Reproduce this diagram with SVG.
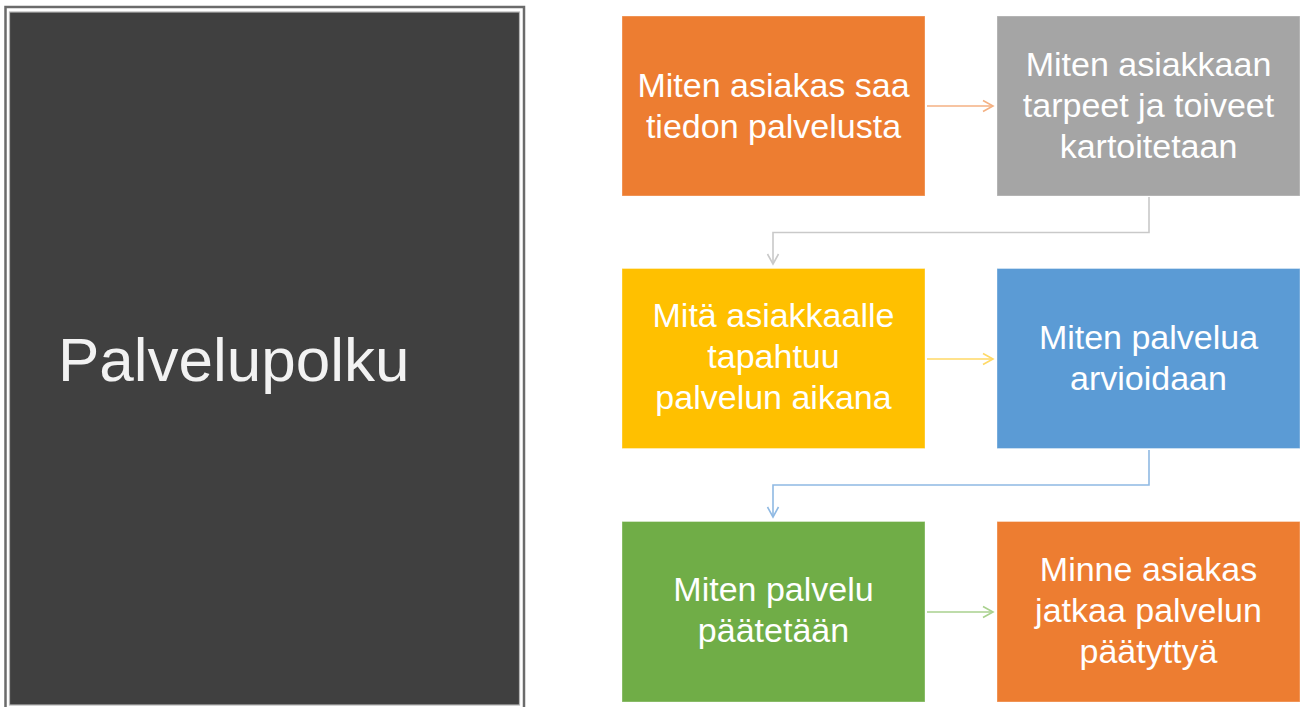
<svg xmlns="http://www.w3.org/2000/svg" width="1301" height="707" viewBox="0 0 1301 707">
  <defs>
    <style>
      .box { stroke: #ffffff; stroke-opacity: 0.35; stroke-width: 1; }
      .lbl { font-family: "Liberation Sans", Arial, sans-serif; font-size: 34px; fill: #ffffff; text-anchor: middle; }
      .title { font-family: "Liberation Sans", Arial, sans-serif; font-size: 62px; fill: #f2f2f2; }
      .conn { fill: none; stroke-width: 1.6; }
    </style>
    <marker id="aOrange" markerUnits="userSpaceOnUse" markerWidth="14" markerHeight="14" refX="11" refY="7" orient="auto">
      <path d="M1,1.5 L11,7 L1,12.5" fill="none" stroke="#F4B183" stroke-width="1.6"/>
    </marker>
    <marker id="aGray" markerUnits="userSpaceOnUse" markerWidth="14" markerHeight="14" refX="11" refY="7" orient="auto">
      <path d="M1,1.5 L11,7 L1,12.5" fill="none" stroke="#C9C9C9" stroke-width="1.6"/>
    </marker>
    <marker id="aYellow" markerUnits="userSpaceOnUse" markerWidth="14" markerHeight="14" refX="11" refY="7" orient="auto">
      <path d="M1,1.5 L11,7 L1,12.5" fill="none" stroke="#FFD966" stroke-width="1.6"/>
    </marker>
    <marker id="aBlue" markerUnits="userSpaceOnUse" markerWidth="14" markerHeight="14" refX="11" refY="7" orient="auto">
      <path d="M1,1.5 L11,7 L1,12.5" fill="none" stroke="#8FB9E3" stroke-width="1.6"/>
    </marker>
    <marker id="aGreen" markerUnits="userSpaceOnUse" markerWidth="14" markerHeight="14" refX="11" refY="7" orient="auto">
      <path d="M1,1.5 L11,7 L1,12.5" fill="none" stroke="#A9D18E" stroke-width="1.6"/>
    </marker>
  </defs>

  <rect x="0" y="0" width="1301" height="707" fill="#ffffff"/>

  <g id="title-panel">
    <rect x="5.5" y="7" width="518.5" height="710" fill="none" stroke="#6b6b6b" stroke-width="2.5"/>
    <rect x="9.5" y="12" width="510" height="693" fill="#404040" stroke="#b5b5b5" stroke-width="1.2"/>
    <text class="title" x="58" y="381">Palvelupolku</text>
  </g>

  <g id="connectors">
    <line class="conn" x1="927" y1="106" x2="993" y2="106" stroke="#F4B183" marker-end="url(#aOrange)"/>
    <path class="conn" d="M1149,197 V232.5 H773 V264" stroke="#C9C9C9" marker-end="url(#aGray)"/>
    <line class="conn" x1="927" y1="359" x2="993" y2="359" stroke="#FFD966" marker-end="url(#aYellow)"/>
    <path class="conn" d="M1149,450 V485 H773 V517" stroke="#8FB9E3" marker-end="url(#aBlue)"/>
    <line class="conn" x1="927" y1="612" x2="993" y2="612" stroke="#A9D18E" marker-end="url(#aGreen)"/>
  </g>

  <g id="node-tiedon">
    <rect class="box" x="622" y="16" width="303" height="180" fill="#ED7D31"/>
    <text class="lbl" x="773.5" y="97">Miten asiakas saa</text>
    <text class="lbl" x="773.5" y="138">tiedon palvelusta</text>
  </g>

  <g id="node-kartoitus">
    <rect class="box" x="997" y="16" width="303" height="180" fill="#A5A5A5"/>
    <text class="lbl" x="1148.5" y="76">Miten asiakkaan</text>
    <text class="lbl" x="1148.5" y="117">tarpeet ja toiveet</text>
    <text class="lbl" x="1148.5" y="158">kartoitetaan</text>
  </g>

  <g id="node-aikana">
    <rect class="box" x="622" y="268.5" width="303" height="180" fill="#FFC000"/>
    <text class="lbl" x="773.5" y="327">Mitä asiakkaalle</text>
    <text class="lbl" x="773.5" y="368">tapahtuu</text>
    <text class="lbl" x="773.5" y="409">palvelun aikana</text>
  </g>

  <g id="node-arviointi">
    <rect class="box" x="997" y="268.5" width="303" height="180" fill="#5B9BD5"/>
    <text class="lbl" x="1148.5" y="349">Miten palvelua</text>
    <text class="lbl" x="1148.5" y="390">arvioidaan</text>
  </g>

  <g id="node-paattaminen">
    <rect class="box" x="622" y="521.5" width="303" height="180.5" fill="#70AD47"/>
    <text class="lbl" x="773.5" y="601">Miten palvelu</text>
    <text class="lbl" x="773.5" y="642">päätetään</text>
  </g>

  <g id="node-jatko">
    <rect class="box" x="997" y="521.5" width="303" height="180.5" fill="#ED7D31"/>
    <text class="lbl" x="1148.5" y="581">Minne asiakas</text>
    <text class="lbl" x="1148.5" y="622">jatkaa palvelun</text>
    <text class="lbl" x="1148.5" y="663">päätyttyä</text>
  </g>
</svg>
